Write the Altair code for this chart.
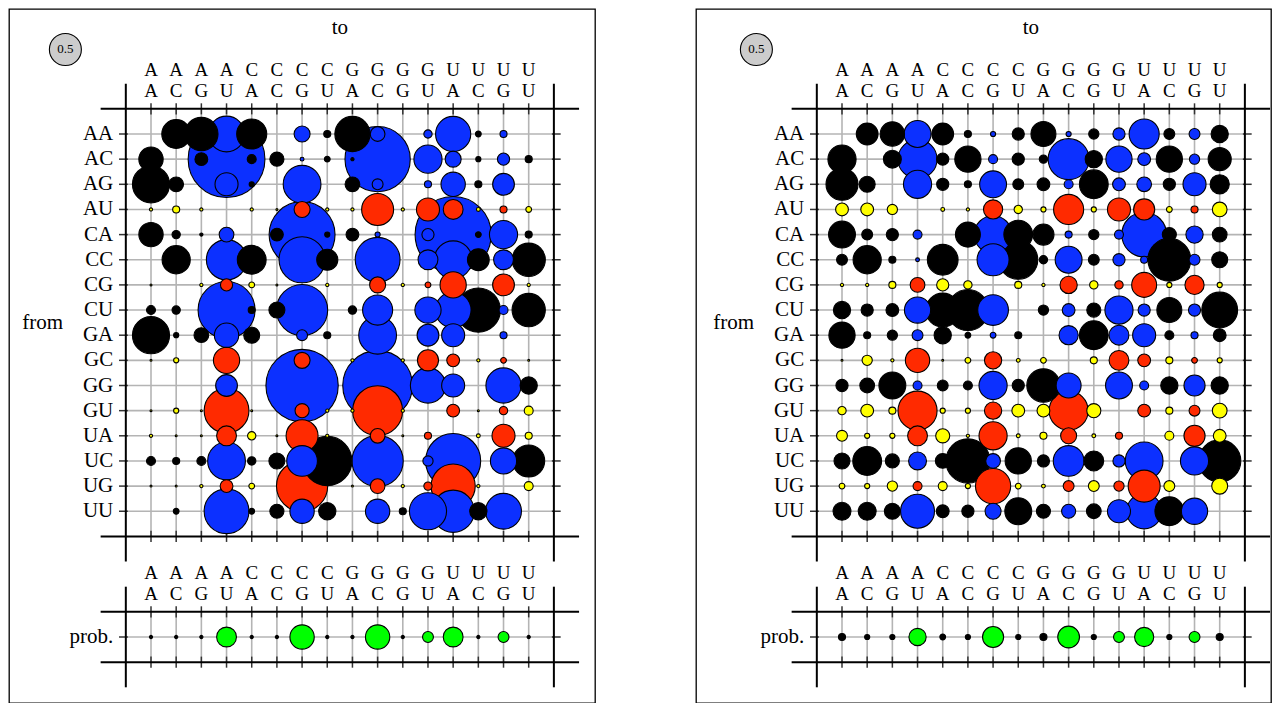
import altair as alt
import pandas as pd

DINUC = ["AA", "AC", "AG", "AU", "CA", "CC", "CG", "CU",
         "GA", "GC", "GG", "GU", "UA", "UC", "UG", "UU"]
PAIRS = ["AU", "CG", "GC", "GU", "UA", "UG"]
LEGEND_VALUE = 0.5

# rows = "from", columns = "to" (same order as DINUC)
left_matrix = [
    [0, .45, .52, .56, .47, 0, .25, .11, .55, .23, 0, .13, .55, .09, .11, 0],
    [.38, 0, .2, 1.2, .14, .22, .06, .09, .05, 1.02, 0, .44, .25, .08, .19, .11],
    [.58, .23, 0, .36, .08, 0, .59, 0, .23, .17, 0, .11, .38, .11, .34, 0],
    [.05, .11, .05, 0, .05, .03, .25, .05, .05, .5, .05, .36, .31, .06, .11, .09],
    [.38, .13, .05, .23, 0, .2, 1.03, .08, .2, .08, 0, .19, 1.19, .09, .44, .11],
    [0, .44, 0, .63, .45, 0, .72, .33, 0, .7, 0, .31, .59, .34, .31, .52],
    [.03, 0, .05, .19, .09, .03, 0, .05, 0, .25, .05, .09, .41, 0, .34, .05],
    [.14, .13, 0, .89, .11, .25, .8, 0, .13, .47, 0, .41, .56, .69, .14, .52],
    [.58, .08, .23, .38, .25, 0, .17, .11, 0, .59, 0, .34, .36, 0, .11, 0],
    [.03, .08, 0, .41, 0, 0, .25, 0, .05, 0, .05, .33, .2, .05, .09, .03],
    [0, 0, 0, .34, 0, 0, 1.13, 0, 0, 1.09, 0, .55, .36, 0, .55, .27],
    [.03, .08, .03, .7, .03, 0, .22, .05, .05, .78, .05, 0, .2, .03, .13, .14],
    [.05, .03, .03, .31, .13, .03, .5, .05, 0, .23, .03, .11, 0, .06, .36, .11],
    [.14, .11, .14, .59, .13, .25, .48, .77, 0, .8, 0, .16, .86, 0, .41, .5],
    [.03, .03, .05, .2, .09, 0, .8, 0, .03, .23, .05, .13, .69, .05, 0, .14],
    [0, .09, 0, .7, .09, .22, .38, .27, 0, .38, .11, .58, .66, .27, .56, 0],
]
left_prob = [.05, .05, .05, .31, .05, .05, .38, .05, .05, .38, .05, .17, .31, .05, .17, .05]

right_matrix = [
    [0, .34, .38, .42, .34, .11, .08, .19, .39, .08, .16, .19, .47, .17, .17, .27],
    [.44, 0, .28, .61, .19, .41, .14, .19, .13, .64, .27, .41, .2, .41, .16, .36],
    [.5, .25, 0, .44, .19, .11, .42, .17, .2, .14, .45, .2, .23, .19, .36, .3],
    [.2, .2, .16, 0, .06, .05, .3, .13, .08, .47, .08, .36, .33, .09, .11, .23],
    [.42, .17, .19, .14, 0, .39, .59, .45, .33, .11, .16, .14, .7, .22, .27, .23],
    [.17, .44, .11, .06, .48, 0, .5, .61, .13, .42, .17, .19, .11, .67, .17, .25],
    [.05, .05, .11, .23, .19, .13, 0, .11, .05, .27, .13, .13, .39, .08, .3, .08],
    [.27, .19, .2, .41, .53, .64, .48, 0, .16, .2, .22, .44, .19, .39, .19, .56],
    [.41, .11, .16, .17, .27, .09, .09, .11, 0, .3, .45, .31, .36, .14, .11, .2],
    [.03, .16, .05, .38, .03, .09, .27, .06, .09, 0, .11, .31, .2, .11, .09, .08],
    [.19, .23, .42, .14, .17, .14, .44, .19, .52, .39, 0, .42, .14, .27, .33, .27],
    [.13, .2, .11, .61, .08, .08, .27, .2, .2, .61, .22, 0, .2, .11, .17, .23],
    [.17, .08, .08, .31, .22, .05, .44, .06, .11, .25, .06, .11, 0, .14, .33, .2],
    [.25, .45, .22, .28, .23, .69, .23, .41, .19, .48, .31, .19, .59, 0, .44, .66],
    [.09, .08, .16, .14, .14, .08, .55, .09, .06, .17, .17, .16, .5, .17, 0, .25],
    [.28, .28, .25, .53, .2, .19, .25, .42, .22, .22, .23, .36, .55, .45, .41, 0],
]
right_prob = [.11, .08, .08, .27, .09, .08, .33, .08, .11, .34, .08, .17, .3, .08, .17, .11]

COLX = 25.18
ROWY = 25.15
FONT = "Liberation Serif"

# circle symbol: size = (diameter)^2 ; value 0.5 -> 32 px diameter
SIZE = alt.Scale(type="pow", exponent=2, domain=[0, 1.25], range=[0, 6400], clamp=False)
FILL = alt.Scale(domain=["k", "b", "r", "y", "g", "legend"],
                 range=["#000000", "#0c30ff", "#ff2a00", "#ffff00", "#00ff00", "#cccccc"])


def kind(frm, to):
    fp, tp = frm in PAIRS, to in PAIRS
    if fp and tp:
        return "r"
    if fp:
        return "y"
    if tp:
        return "b"
    return "k"


def panel(matrix, prob, width, x0):
    xs = alt.Scale(domain=[0, 15], range=[x0, x0 + 15 * COLX], clamp=False, nice=False, zero=False)
    ys = alt.Scale(domain=[0, 15], range=[125, 125 + 15 * ROWY], clamp=False, nice=False, zero=False)

    def seg(rows, color, w):
        return alt.Chart(pd.DataFrame(rows)).mark_rule(color=color, strokeWidth=w).encode(
            x=alt.X("x:Q", scale=xs, axis=None), x2="x2:Q",
            y=alt.Y("y:Q", scale=ys, axis=None), y2="y2:Q")

    grid, ticks, lines = [], [], []
    for j in range(16):
        grid.append(dict(x=j, x2=j, y=-1, y2=16))
        grid.append(dict(x=j, x2=j, y=19, y2=21))
    for i in list(range(16)) + [20]:
        grid.append(dict(x=-1, x2=16, y=i, y2=i))
        ticks.append(dict(x=-1.27, x2=-0.92, y=i, y2=i))
        ticks.append(dict(x=15.92, x2=16.27, y=i, y2=i))
    for L in [-1, 16, 19, 21]:
        for j in range(16):
            ticks.append(dict(x=j, x2=j, y=L - 0.22, y2=L + 0.22))
        lines.append(dict(x=-2, x2=17, y=L, y2=L))
    for X in [-1, 16]:
        lines.append(dict(x=X, x2=X, y=-2, y2=17))
        lines.append(dict(x=X, x2=X, y=18, y2=22))

    pts = []
    for i, frm in enumerate(DINUC):
        for j, to in enumerate(DINUC):
            v = matrix[i][j]
            if v > 0:
                pts.append(dict(x=j, y=i, v=v, kind=kind(frm, to)))
    for j, to in enumerate(DINUC):
        pts.append(dict(x=j, y=20, v=prob[j], kind="g" if to in PAIRS else "k"))
    pts.append(dict(x=-3.4, y=-3.36, v=LEGEND_VALUE, kind="legend"))

    circles = alt.Chart(pd.DataFrame(pts)).mark_circle(
        stroke="black", strokeWidth=1.1, opacity=1).encode(
        x=alt.X("x:Q", scale=xs, axis=None),
        y=alt.Y("y:Q", scale=ys, axis=None),
        size=alt.Size("v:Q", scale=SIZE, legend=None),
        fill=alt.Fill("kind:N", scale=FILL, legend=None),
        order=alt.Order("v:Q", sort="descending"))

    def txt(rows, align="center", size=21):
        return alt.Chart(pd.DataFrame(rows)).mark_text(
            font=FONT, fontSize=size, align=align, baseline="middle", color="black").encode(
            x=alt.X("x:Q", scale=xs, axis=None),
            y=alt.Y("y:Q", scale=ys, axis=None),
            text="t:N")

    col_labels = []
    for j, d in enumerate(DINUC):
        for yy, ch in [(-2.55, d[0]), (-1.7, d[1]), (17.45, d[0]), (18.3, d[1])]:
            col_labels.append(dict(x=j, y=yy, t=ch))
    row_labels = [dict(x=-1.5, y=i, t=d) for i, d in enumerate(DINUC)]
    row_labels.append(dict(x=-1.5, y=20, t="prob."))
    titles = [dict(x=7.5, y=-4.23, t="to"), dict(x=-4.3, y=7.5, t="from")]
    legend_txt = [dict(x=-3.4, y=-3.36, t=str(LEGEND_VALUE))]

    return alt.layer(
        seg(grid, "#b4b4b4", 1.6),
        seg(ticks, "#333333", 1.5),
        seg(lines, "black", 2),
        circles,
        txt(col_labels, size=19),
        txt(row_labels, align="right"),
        txt(titles, size=21),
        txt(legend_txt, size=13),
    ).properties(width=width, height=694)


left = panel(left_matrix, left_prob, 586, 142)
right = panel(right_matrix, right_prob, 575, 146)

chart = alt.hconcat(left, right, spacing=99).configure_view(
    stroke="black", strokeWidth=1.3).properties(padding=0)

chart.save("out.html", embed_options={"renderer": "svg", "actions": False})
